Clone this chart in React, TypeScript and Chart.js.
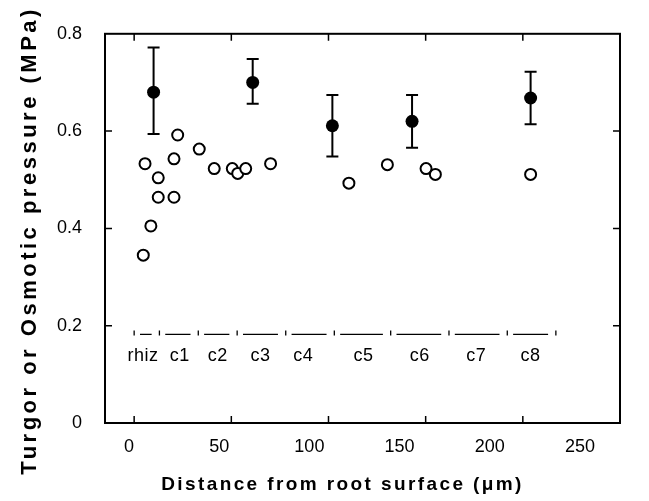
import React, { useEffect, useRef } from 'react';
import { Chart, registerables } from 'chart.js';

Chart.register(...registerables);

// Open circles: individual cell measurements (distance µm, pressure MPa)
const openX = [4.7, 5.6, 8.6, 12.4, 12.4, 20.5, 20.5, 22.4, 33.5, 41.2, 50.5, 53.3, 57.4, 70.2, 110.5, 130.3, 150.2, 155, 204];
const openY = [0.345, 0.533, 0.405, 0.504, 0.464, 0.543, 0.464, 0.592, 0.563, 0.523, 0.523, 0.513, 0.523, 0.533, 0.493, 0.531, 0.523, 0.511, 0.511];

// Filled circles: mean with error bars
const meanX = [10, 61, 102, 143, 204];
const meanY = [0.68, 0.70, 0.611, 0.62, 0.668];
const errHigh = [0.772, 0.748, 0.674, 0.674, 0.722];
const errLow = [0.594, 0.656, 0.548, 0.566, 0.614];

// Cell-layer regions
const regionBounds = [0, 13, 33, 53, 78, 103, 132, 162, 192, 217];
const regionNames = ['rhiz', 'c1', 'c2', 'c3', 'c4', 'c5', 'c6', 'c7', 'c8'];
const regionLabelX = [4.5, 23.5, 43, 65, 87, 118, 147, 176, 204];

const yTickValues = [0, 0.2, 0.4, 0.6, 0.8];
const xTickValues = [0, 50, 100, 150, 200, 250];

const BAND_Y = 0.182;
const BAND_TICK_Y = 0.185;
const BAND_LABEL_Y = 0.137;
const SEG_GAP_L = 3;
const SEG_GAP_R = 4;
const FONT = '"Liberation Sans", Arial, sans-serif';

function patchScale(scale: any, tickSpacing: string, titleSpacing: string, dx: number, dy: number) {
  if (!scale || scale.__patched) return;
  scale.__patched = true;
  const origDraw = scale.draw;
  const origTitle = scale.drawTitle;
  scale.draw = function (area: any) {
    const ctx = this.ctx;
    ctx.save();
    ctx.letterSpacing = tickSpacing;
    origDraw.call(this, area);
    ctx.restore();
  };
  scale.drawTitle = function () {
    const ctx = this.ctx;
    ctx.save();
    ctx.letterSpacing = titleSpacing;
    ctx.translate(dx, dy);
    const proto = Object.getPrototypeOf(ctx);
    ctx.fillText = function (t: string, x: number, y: number) {
      return proto.fillText.call(this, t, x, y);
    };
    origTitle.call(this);
    delete ctx.fillText;
    ctx.restore();
  };
}

export default function App() {
  const ref = useRef<HTMLCanvasElement | null>(null);

  useEffect(() => {
    document.body.style.margin = '0';
    const canvas = ref.current;
    if (!canvas) return;

    const segData: any[] = [];
    for (let i = 0; i < regionBounds.length - 1; i++) {
      segData.push({ x: regionBounds[i] + SEG_GAP_L, y: BAND_Y });
      segData.push({ x: regionBounds[i + 1] - SEG_GAP_R, y: BAND_Y });
      segData.push({ x: (regionBounds[i] + regionBounds[i + 1]) / 2, y: null });
    }

    const frame = {
      id: 'frame',
      beforeDraw(chart: any) {
        patchScale(chart.scales.y, '1px', '3.5px', 0, 12);
        patchScale(chart.scales.xl, '2.5px', '2.4px', -20, 0);
      },
      beforeDatasetsDraw(chart: any) {
        const { ctx, scales } = chart;
        const xs = scales.x, ys = scales.y;
        ctx.save();
        ctx.strokeStyle = '#000';
        ctx.lineWidth = 2;
        for (let i = 0; i < meanX.length; i++) {
          const px = xs.getPixelForValue(meanX[i]);
          const pt = ys.getPixelForValue(errHigh[i]);
          const pb = ys.getPixelForValue(errLow[i]);
          ctx.beginPath();
          ctx.moveTo(px, pt); ctx.lineTo(px, pb);
          ctx.moveTo(px - 6, pt); ctx.lineTo(px + 6, pt);
          ctx.moveTo(px - 6, pb); ctx.lineTo(px + 6, pb);
          ctx.stroke();
        }
        ctx.restore();
      },
      afterDraw(chart: any) {
        const { ctx, chartArea: a, scales } = chart;
        const xs = scales.x, ys = scales.y;
        ctx.save();
        ctx.strokeStyle = '#000';
        ctx.lineWidth = 2;
        ctx.strokeRect(a.left, a.top, a.right - a.left, a.bottom - a.top);
        ctx.lineWidth = 1.5;
        ctx.beginPath();
        xTickValues.forEach((v) => {
          const px = xs.getPixelForValue(v);
          if (px <= a.left + 1 || px >= a.right - 1) return;
          ctx.moveTo(px, a.bottom); ctx.lineTo(px, a.bottom - 7);
          ctx.moveTo(px, a.top); ctx.lineTo(px, a.top + 7);
        });
        yTickValues.forEach((v) => {
          const py = ys.getPixelForValue(v);
          if (py <= a.top + 1 || py >= a.bottom - 1) return;
          ctx.moveTo(a.left, py); ctx.lineTo(a.left + 7, py);
          ctx.moveTo(a.right, py); ctx.lineTo(a.right - 7, py);
        });
        ctx.stroke();
        // region labels
        ctx.fillStyle = '#000';
        ctx.font = `18px ${FONT}`;
        ctx.textAlign = 'center';
        ctx.textBaseline = 'middle';
        ctx.letterSpacing = '0.5px';
        regionNames.forEach((n, i) => {
          ctx.fillText(n, xs.getPixelForValue(regionLabelX[i]), ys.getPixelForValue(BAND_LABEL_Y));
        });
        ctx.restore();
      },
    };

    const chart = new Chart(canvas, {
      type: 'scatter',
      data: {
        datasets: [
          {
            label: 'segments',
            type: 'line',
            data: segData,
            showLine: true,
            spanGaps: false,
            borderColor: '#000',
            borderWidth: 1.3,
            pointRadius: 0,
            xAxisID: 'x',
            yAxisID: 'y',
          } as any,
          {
            label: 'bounds',
            data: regionBounds.map((b) => ({ x: b, y: BAND_TICK_Y })),
            pointStyle: 'line',
            rotation: 90,
            radius: 2.5,
            borderColor: '#000',
            borderWidth: 1.3,
            xAxisID: 'x',
            yAxisID: 'y',
          } as any,
          {
            label: 'cells',
            data: openX.map((x, i) => ({ x, y: openY[i] })),
            pointStyle: 'circle',
            radius: 5.5,
            borderWidth: 2,
            borderColor: '#000',
            backgroundColor: '#fff',
            xAxisID: 'x',
            yAxisID: 'y',
          } as any,
          {
            label: 'mean',
            data: meanX.map((x, i) => ({ x, y: meanY[i] })),
            pointStyle: 'circle',
            radius: 6.5,
            borderWidth: 0,
            backgroundColor: '#000',
            xAxisID: 'x',
            yAxisID: 'y',
          } as any,
        ],
      },
      options: {
        animation: false,
        responsive: false,
        layout: { padding: { top: 27, right: 29, left: 0, bottom: 0 } },
        plugins: { legend: { display: false }, tooltip: { enabled: false } },
        scales: {
          x: {
            type: 'linear',
            position: 'bottom',
            min: -15,
            max: 250,
            ticks: { display: false, stepSize: 50, includeBounds: false },
            grid: { display: false, drawTicks: false },
            border: { display: false },
            afterFit: (s: any) => { s.height = 0; },
          },
          xl: {
            type: 'linear',
            position: 'bottom',
            min: -13.3,
            max: 272.2,
            ticks: {
              stepSize: 50,
              includeBounds: false,
              color: '#000',
              padding: 13,
              maxRotation: 0,
              font: { family: FONT, size: 18 },
            },
            grid: { display: false, drawTicks: false },
            border: { display: false },
            title: {
              display: true,
              text: 'Distance from root surface (μm)',
              color: '#000',
              font: { family: FONT, size: 19, weight: 'bold' },
              padding: { top: 0, bottom: 5 },
            },
            afterFit: (s: any) => { s.height = 78; },
          },
          y: {
            type: 'linear',
            position: 'left',
            min: 0,
            max: 0.8,
            ticks: {
              stepSize: 0.2,
              color: '#000',
              padding: 23,
              font: { family: FONT, size: 18 },
            },
            grid: { display: false, drawTicks: false },
            border: { display: false },
            title: {
              display: true,
              text: 'Turgor or Osmotic pressure (MPa)',
              color: '#000',
              font: { family: FONT, size: 22, weight: 'bold' },
              padding: { top: 17, bottom: 0 },
            },
            afterFit: (s: any) => { s.width = 105; },
          },
        },
      } as any,
      plugins: [frame],
    });

    return () => chart.destroy();
  }, []);

  return (
    <div style={{ position: 'absolute', left: 0, top: 0, width: 649, height: 501, background: '#fff' }}>
      <canvas ref={ref} width={649} height={501} />
    </div>
  );
}
